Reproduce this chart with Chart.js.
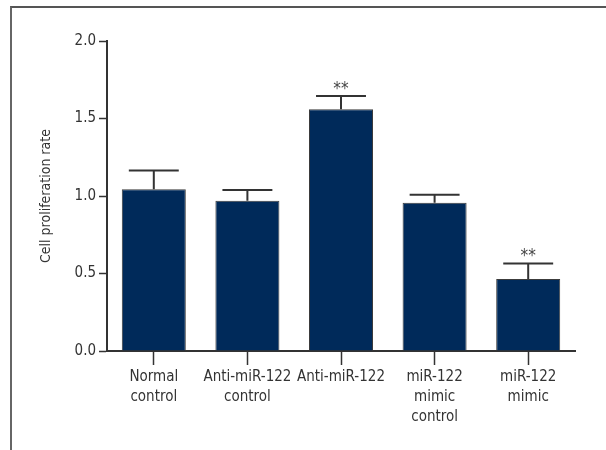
<!DOCTYPE html>
<html>
<head>
<meta charset="utf-8">
<script src="https://cdn.jsdelivr.net/npm/chart.js@4/dist/chart.umd.min.js"></script>
<style>
  html, body { margin: 0; padding: 0; background: #fff; }
  #wrap { position: relative; width: 606px; height: 450px; overflow: hidden; }
  #frame { position: absolute; left: 10px; top: 6px; right: -4px; bottom: -4px; border-left: 2px solid #666; border-top: 2px solid #555; pointer-events: none; }
  canvas { position: absolute; left: 0; top: 0; }
</style>
</head>
<body>
<div id="wrap">
  <canvas id="c" width="606" height="450"></canvas>
  <div id="frame"></div>
</div>
<script>
const categories = [["Normal", "control"], ["Anti-miR-122", "control"], ["Anti-miR-122"], ["miR-122", "mimic", "control"], ["miR-122", "mimic"]];
const rates = [1.043, 0.970, 1.559, 0.957, 0.464];
const errors = [0.122, 0.069, 0.086, 0.051, 0.101];
const significance = ["", "", "**", "", "**"];
const yTicks = [0, 0.5, 1.0, 1.5, 2.0];

const FONT = "'DejaVu Sans Condensed', 'Liberation Sans Narrow', sans-serif";
const INK = '#333333';

const errorBarPlugin = {
  id: 'errorBars',
  afterDatasetsDraw(chart) {
    const ctx = chart.ctx;
    const meta = chart.getDatasetMeta(0);
    const y = chart.scales.y;
    ctx.save();
    ctx.strokeStyle = INK;
    ctx.lineWidth = 2;
    meta.data.forEach((bar, i) => {
      const top = y.getPixelForValue(rates[i]);
      const end = y.getPixelForValue(rates[i] + errors[i]);
      const half = bar.width * 0.39;
      ctx.beginPath();
      ctx.moveTo(bar.x, top);
      ctx.lineTo(bar.x, end);
      ctx.moveTo(bar.x - half, end);
      ctx.lineTo(bar.x + half, end);
      ctx.stroke();
      if (significance[i]) {
        ctx.fillStyle = '#444';
        ctx.font = "17px " + FONT;
        ctx.textAlign = 'center';
        ctx.textBaseline = 'alphabetic';
        ctx.fillText(significance[i], bar.x, end - 2);
      }
    });
    ctx.restore();
  }
};

new Chart(document.getElementById('c'), {
  type: 'bar',
  data: {
    labels: categories,
    datasets: [{
      data: rates,
      backgroundColor: '#002a5a',
      borderColor: '#3c3c3c',
      borderWidth: 1,
      barPercentage: 0.684,
      categoryPercentage: 1.0
    }]
  },
  options: {
    responsive: false,
    animation: false,
    devicePixelRatio: 1,
    layout: { padding: { left: 33, top: 41, right: 31, bottom: 0 } },
    plugins: { legend: { display: false }, tooltip: { enabled: false } },
    scales: {
      x: {
        grid: { display: true, drawOnChartArea: false, drawTicks: true, tickLength: 14, tickColor: INK, tickWidth: 1.5, offset: false },
        border: { display: true, color: INK, width: 2 },
        ticks: { color: INK, font: { family: FONT, size: 15, lineHeight: 1.34 }, padding: 2, maxRotation: 0, autoSkip: false },
        afterFit(scale) { scale.height = 99; }
      },
      y: {
        min: 0, max: 2.0,
        afterBuildTicks(scale) { scale.ticks = yTicks.map(v => ({ value: v })); },
        grid: { display: true, drawOnChartArea: false, drawTicks: true, tickLength: 8, tickColor: INK, tickWidth: 1.5 },
        border: { display: true, color: INK, width: 2 },
        ticks: { color: INK, font: { family: FONT, size: 15 }, padding: 3, callback: v => v.toFixed(1) },
        title: { display: true, text: 'Cell proliferation rate', color: INK, font: { family: FONT, size: 14 }, padding: { top: 5, bottom: 4 } },
        afterFit(scale) { scale.width = 74; }
      }
    }
  },
  plugins: [errorBarPlugin]
});
</script>
</body>
</html>
